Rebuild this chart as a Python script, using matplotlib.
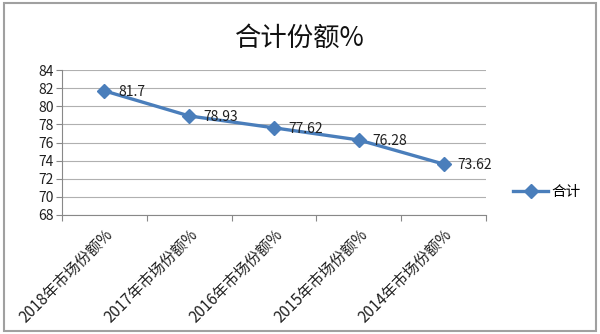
import matplotlib
matplotlib.use("Agg")
import matplotlib.pyplot as plt
from matplotlib.patches import Rectangle

plt.rcParams['font.family'] = ['Noto Sans CJK SC', 'DejaVu Sans']

categories = ["2018年市场份额%", "2017年市场份额%", "2016年市场份额%", "2015年市场份额%", "2014年市场份额%"]
values = [81.7, 78.93, 77.62, 76.28, 73.62]
value_labels = ["81.7", "78.93", "77.62", "76.28", "73.62"]
series_name = "合计"
title = "合计份额%"
yticks = [68, 70, 72, 74, 76, 78, 80, 82, 84]

line_color = "#4A7EBB"
grid_color = "#B0B0B0"

fig = plt.figure(figsize=(6.0, 3.34), dpi=100)
fig.patch.set_facecolor("white")
fig.add_artist(Rectangle((4/600, 3/334), 592/600, 328/334, transform=fig.transFigure,
                         fill=False, edgecolor="#A0A0A0", linewidth=1.5))

ax = fig.add_axes([62/600, 1 - 215/334, 424/600, 145/334])
x = list(range(len(categories)))
ax.plot(x, values, color=line_color, linewidth=2.4, marker="D", markersize=7,
        markerfacecolor=line_color, markeredgecolor=line_color, label=series_name)
for xi, v, lab in zip(x, values, value_labels):
    ax.annotate(lab, (xi, v), xytext=(10, -1), textcoords="offset points",
                ha="left", va="center", fontsize=10, color="#202020")

ax.set_xlim(-0.5, len(categories) - 0.5)
ax.set_ylim(68, 84)
ax.set_yticks(yticks)
ax.set_yticklabels([str(t) for t in yticks], fontsize=10, color="#202020")
ax.yaxis.grid(True, color=grid_color, linewidth=0.8)
ax.set_axisbelow(True)

ax.set_xticks([i - 0.5 for i in range(len(categories) + 1)])
ax.set_xticklabels([])
ax.set_xticks(x, minor=True)
ax.set_xticklabels(categories, minor=True, rotation=45, ha="right",
                   rotation_mode="anchor", fontsize=11, color="#202020")
ax.tick_params(axis="x", which="minor", length=0, pad=8)
ax.tick_params(axis="x", which="major", length=4, color="#888888", direction="out")
ax.tick_params(axis="y", length=4, color="#888888", direction="out", pad=2)

for s in ["top", "right"]:
    ax.spines[s].set_visible(False)
for s in ["left", "bottom"]:
    ax.spines[s].set_color("#888888")
    ax.spines[s].set_linewidth(0.8)

fig.text(0.5, 1 - 38/334, title, ha="center", va="center", fontsize=19, color="#101010")

fig.legend(loc="center left", bbox_to_anchor=(500/600, 1 - 192/334), frameon=False,
           fontsize=10.5, handlelength=2.4, handletextpad=0.2)

fig.savefig("out.png", dpi=100)
